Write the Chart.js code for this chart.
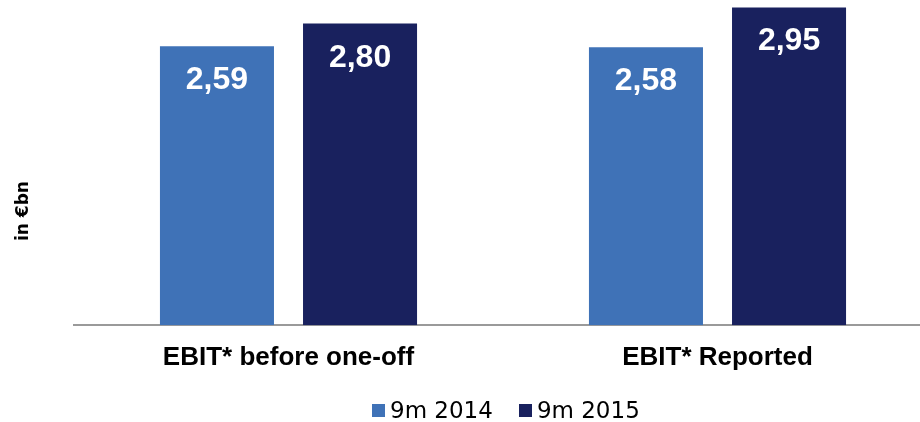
<!DOCTYPE html>
<html>
<head>
<meta charset="utf-8">
<script src="https://cdn.jsdelivr.net/npm/chart.js@4.4.0/dist/chart.umd.min.js"></script>
<style>
  html, body { margin: 0; padding: 0; background: #fff; overflow: hidden; }
  #wrap { position: relative; width: 932px; height: 422px; }
  #legend {
    position: absolute; left: 372px; top: 399px;
    font: 23px "DejaVu Sans", sans-serif; line-height: 23px; color: #000;
    white-space: nowrap;
  }
  #legend .item { display: inline-block; margin-right: 26px; }
  #legend .box { display: inline-block; width: 13px; height: 13px; margin-right: 5px; vertical-align: 1px; }
</style>
</head>
<body>
<div id="wrap">
  <canvas id="chart"></canvas>
  <div id="legend"></div>
</div>
<script>
// EBIT, first nine months, in € billion
const categories = ['EBIT* before one-off', 'EBIT* Reported'];
const seriesNames = ['9m 2014', '9m 2015'];
const values2014 = [2.59, 2.58];
const values2015 = [2.80, 2.95];
const colors = ['#3F72B7', '#19215E'];

const fmt = (v) => v.toFixed(2).replace('.', ',');

// value inside each bar, near its top
const barLabels = {
  id: 'barLabels',
  afterDatasetsDraw(chart) {
    const ctx = chart.ctx;
    ctx.save();
    ctx.font = 'bold 32px "Liberation Sans", Arial, sans-serif';
    ctx.fillStyle = '#fff';
    ctx.textAlign = 'center';
    ctx.textBaseline = 'alphabetic';
    chart.data.datasets.forEach((ds, i) => {
      chart.getDatasetMeta(i).data.forEach((bar, j) => {
        ctx.fillText(fmt(ds.data[j]), bar.x, bar.y + 43);
      });
    });
    ctx.restore();
  }
};

// rotated unit label on the left
const unitLabel = {
  id: 'unitLabel',
  afterDraw(chart) {
    const ctx = chart.ctx;
    ctx.save();
    ctx.translate(23.5, 211);
    ctx.rotate(-Math.PI / 2);
    ctx.font = 'bold 17px "DejaVu Sans", sans-serif';
    ctx.fillStyle = '#000';
    ctx.textAlign = 'center';
    ctx.textBaseline = 'middle';
    ctx.fillText('in €bn', 0, 0);
    ctx.restore();
  }
};

const chart = new Chart(document.getElementById('chart'), {
  type: 'bar',
  data: {
    labels: categories,
    datasets: [
      { label: seriesNames[0], data: values2014, backgroundColor: colors[0] },
      { label: seriesNames[1], data: values2015, backgroundColor: colors[1] }
    ]
  },
  options: {
    responsive: true,
    maintainAspectRatio: false,
    animation: false,
    categoryPercentage: 0.667,
    barPercentage: 0.797,
    layout: { padding: { top: 2, left: 74, right: 0, bottom: 31.5 } },
    plugins: {
      legend: { display: false },
      tooltip: { enabled: false }
    },
    scales: {
      y: { display: false, min: 0, max: 3 },
      x: {
        grid: { display: false, drawTicks: false },
        border: { display: true, color: '#9a9a9a', width: 2 },
        ticks: {
          color: '#000',
          padding: 17,
          font: { family: '"Liberation Sans", Arial, sans-serif', size: 26, weight: 'bold' }
        }
      }
    }
  },
  plugins: [barLabels, unitLabel]
});

// legend below the chart
const legend = document.getElementById('legend');
seriesNames.forEach((name, i) => {
  const item = document.createElement('span');
  item.className = 'item';
  const box = document.createElement('span');
  box.className = 'box';
  box.style.background = colors[i];
  item.appendChild(box);
  item.appendChild(document.createTextNode(name));
  legend.appendChild(item);
});
</script>
</body>
</html>
